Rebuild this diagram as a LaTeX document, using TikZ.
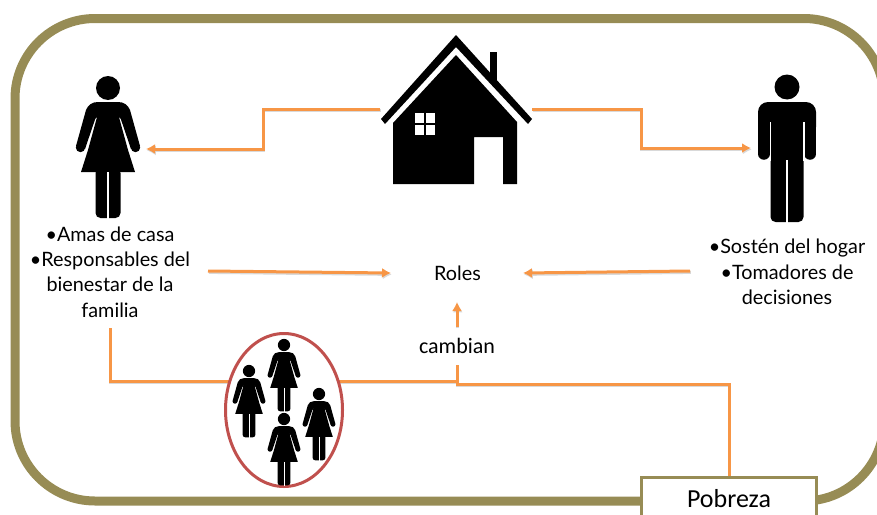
\documentclass[tikz,border=0pt]{standalone}
\usepackage{fontspec}
\setmainfont{Lato}
\newfontfamily\calibri{Carlito}
\usetikzlibrary{arrows.meta,shapes}
\definecolor{marco}{HTML}{978C55}
\definecolor{flecha}{HTML}{F79646}
\definecolor{rojizo}{HTML}{C0504D}
\newcommand{\gline}{3pt}
\tikzset{
    conn/.style = {draw=flecha, line width=\gline, preaction={draw=black!15, line width=\gline, transform canvas={shift={(0.8pt,-1.4pt)}}}},
    tip/.style = {-{Latex[length=9pt,width=10pt]}},
    txt/.style = {align=center, inner sep=0pt, font=\fontsize{19.8}{25.3}\selectfont},
    sans/.style = {inner xsep=2pt, inner ysep=11pt, font=\calibri\fontsize{22}{24}\selectfont}
}
\newcommand{\mujer}[3]{
    \begin{scope}[shift={(#1,#2)},scale=#3]
        \fill (0,0) circle (12);
        \fill (-11.5,31) -- (-10,14) -- (10,14) -- (11.5,31) -- (20,62) -- (27,84) -- (-27,84) -- (-20,62) -- cycle;
        \foreach \lado in {1,-1} {
            \begin{scope}[xscale=\lado]
                \fill (-10,14) .. controls (-16,14) and (-20,17) .. (-22,22) -- (-32,58) -- (-23,61) -- (-12.8,31) -- (-10,28) -- cycle;
                \fill (-27.5,59.5) circle (4.7);
            \end{scope}
        }
        \fill[rounded corners=#3*5pt] (-12.5,80) -- (-12.5,130) -- (12.5,130) -- (12.5,80) -- cycle;
        \draw[white, line width=#3*1.2pt] (0,84) -- (0,131);
    \end{scope}
}
\newcommand{\hombre}[2]{
    \begin{scope}[shift={(#1,#2)}]
        \fill (0,0) circle (12.5);
        \fill[rounded corners=10pt] (-29,50) -- (-29,15) -- (29,15) -- (29,50) -- cycle;
        \draw[line width=11.5pt, line cap=round] (-23.2,30) -- (-23.2,67);
        \draw[line width=11.5pt, line cap=round] (23.2,30) -- (23.2,67);
        \fill[rounded corners=5pt] (-16.5,40) -- (-16.5,135) -- (16.5,135) -- (16.5,40) -- cycle;
        \draw[white, line width=1.4pt] (-16.8,35) -- (-16.8,74);
        \draw[white, line width=1.4pt] (16.8,35) -- (16.8,74);
        \draw[white, line width=1.4pt] (0,73) -- (0,136);
    \end{scope}
}
\newcommand{\casa}{
    \fill (490,52) rectangle (496.5,82);
    \fill (456,35) -- (532,119) -- (528,124) -- (456,47) -- (385,124) -- (381,119) -- cycle;
    \fill (456,55) -- (517,122) -- (517,184) -- (503,184) -- (503,137) -- (474,137) -- (474,184) -- (393,184) -- (393,123) -- cycle;
    \fill[white] (414.5,112.5) rectangle (423.5,122.5);
    \fill[white] (425.5,112.5) rectangle (434.5,122.5);
    \fill[white] (414.5,124.5) rectangle (423.5,134.5);
    \fill[white] (425.5,124.5) rectangle (434.5,134.5);
}
\begin{document}
\begin{tikzpicture}[x=1pt,y=-1pt]
        \useasboundingbox (0,0) rectangle (877,514);
        \clip (0,0) rectangle (877,514);
        \draw[marco, line width=9pt, rounded corners=80pt] (15,18.5) rectangle (884,501);

        \node[txt] (roles) at (457.5,273) {Roles};
        \node[sans] (cambian) at (457,346) {cambian};
        \node[txt] (textoa) at (110,272) {•Amas de casa\\•Responsables del\\bienestar de la\\familia};
        \node[txt] (textob) at (787,272) {•Sostén del hogar\\•Tomadores de\\decisiones};

        \coordinate (casaizq) at (380,109);
        \coordinate (casader) at (532,109);
        \coordinate (ella) at (146,149);
        \coordinate (el) at (751,148);
        \coordinate (rolesa) at (391,273);
        \coordinate (rolesb) at (523,273);
        \coordinate (rolesc) at (457,302);
        \coordinate (sala) at (208,271);
        \coordinate (salb) at (690,271);
        \coordinate (bajaa) at (110,328);
        \coordinate (cruce) at (457,381.5);
        \coordinate (pobre) at (729,478);

        \draw[conn,tip] (casaizq) -- (263,109) -- (263,149) -- (ella);
        \draw[conn,tip] (casader) -- (641,109) -- (641,148) -- (el);
        \draw[conn,tip] (sala) -- (rolesa);
        \draw[conn,tip] (salb) -- (rolesb);
        \draw[conn,tip] (cambian) -- (rolesc);
        \draw[conn] (bajaa) -- (110,381.5) -- (cruce);
        \draw[conn] (pobre) -- (729,384) -- (457,384) -- (cambian);

        \node[draw=rojizo, fill=white, line width=\gline, ellipse, minimum width=117pt, minimum height=153pt, inner sep=0pt] (grupo) at (284,410) {};
        \node[draw=marco, fill=white, line width=3pt, minimum width=175pt, minimum height=60pt, inner sep=0pt] (pobreza) at (729,507) {};
        \node[inner sep=0pt, font=\calibri\fontsize{26}{30}\selectfont] (pobtxt) at (729,499) {Pobreza};

        \casa
        \mujer{108}{88}{1}
        \hombre{787}{87}
        \mujer{284}{345}{0.51}
        \mujer{249}{371}{0.51}
        \mujer{319}{394}{0.51}
        \mujer{284}{419}{0.51}
\end{tikzpicture}
\end{document}
